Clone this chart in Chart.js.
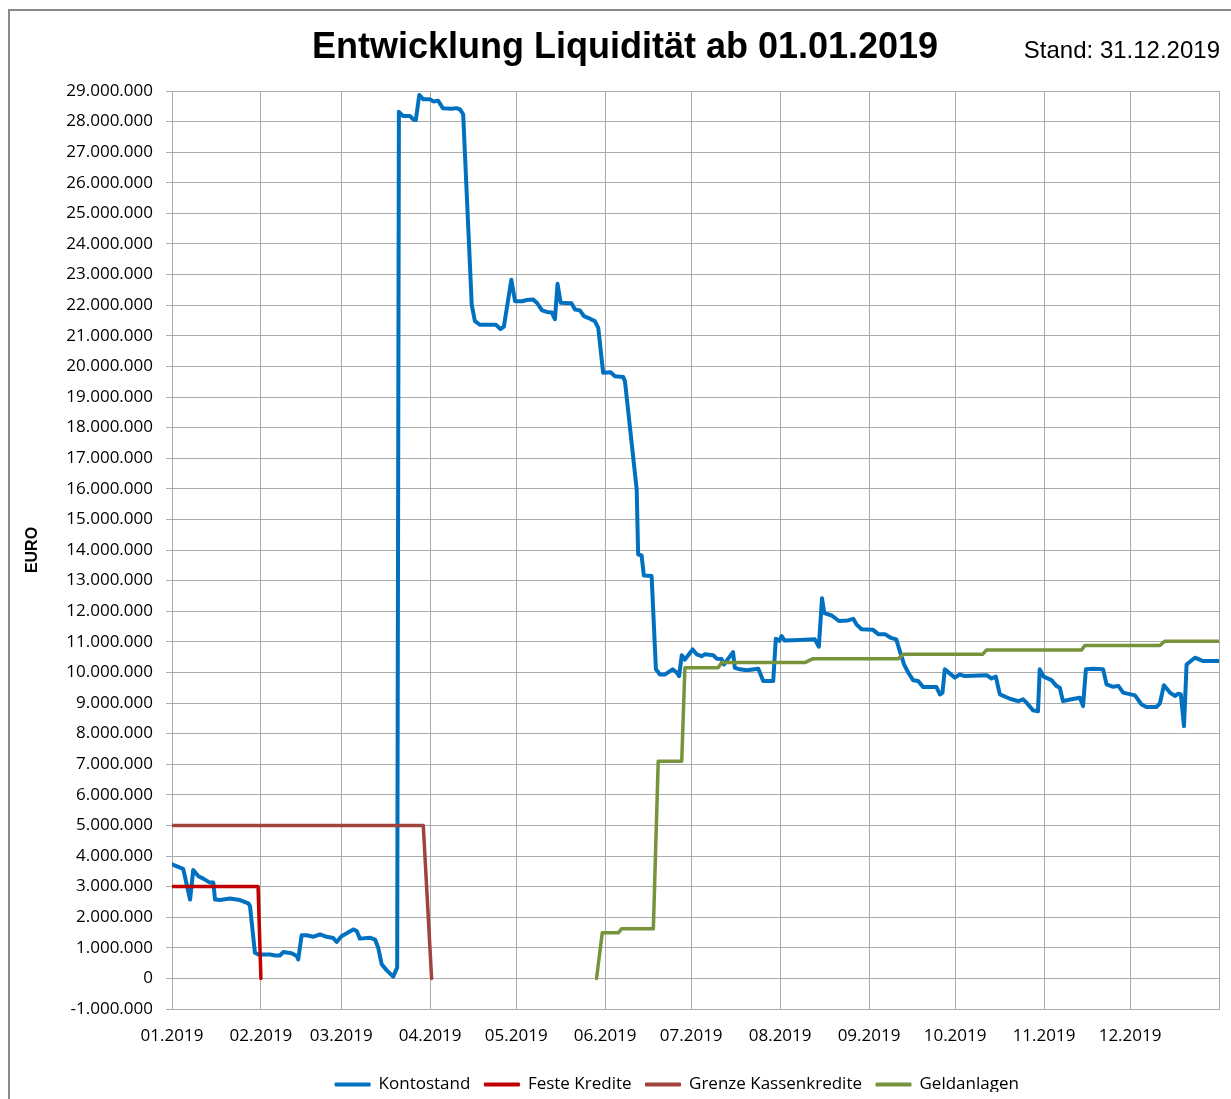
<!DOCTYPE html>
<html><head><meta charset="utf-8">
<script src="https://cdn.jsdelivr.net/npm/chart.js@4"></script>
<style>
html,body{margin:0;padding:0;background:#fff;overflow:hidden;width:1231px;height:1099px;position:relative}
#frame{position:absolute;left:8px;top:9px;width:1300px;height:1200px;border-left:2px solid #8a8a8a;border-top:2px solid #8a8a8a}
canvas{position:absolute;left:0;top:0}
</style></head><body>
<div id="frame"></div>
<canvas id="c" width="1236" height="1099"></canvas>
<script>
const TITLE = 'Entwicklung Liquidität ab 01.01.2019';
const STAND = 'Stand: 31.12.2019';
const Y_TITLE = 'EURO';
const seriesNames = ['Kontostand', 'Feste Kredite', 'Grenze Kassenkredite', 'Geldanlagen'];

// x axis: day of year 2019 (0 = 01.01.2019)
const monthStarts = [0, 31, 59, 90, 120, 151, 181, 212, 243, 273, 304, 334, 365];
const monthLabels = ['01.2019','02.2019','03.2019','04.2019','05.2019','06.2019','07.2019','08.2019','09.2019','10.2019','11.2019','12.2019',''];

const kontoDays = [0,2.8,3.9,6.3,7.4,9.2,10.9,13.2,14.4,15,
16.7,20.2,23.7,26.6,27.2,28.9,30.1,34.2,35.9,37.6,
38.8,41.7,43.5,44,45.2,47,49.2,51.6,53.9,56.2,
57.4,59.1,63.2,64.4,65.5,69,70.8,71.9,73.1,74.8,
77.1,78.5,79.1,80.6,83,84.1,85,86.2,87.6,89.9,
91.1,92.8,94.4,97.5,99.2,100.4,101.5,104.5,105.6,107.4,
112.9,114.5,115.7,118.3,119.6,122,123.7,125.8,127.2,129,
130.7,132.4,133.5,134.4,135.5,139.3,140.5,142.2,143.6,145.7,
147.4,148.6,150.3,152.9,154.4,157.3,157.9,162,162.5,163.7,
164.5,167.2,168.7,170.1,171.8,174.5,175.9,176.8,177.7,178.8,
181.5,182.9,184.6,185.8,188.7,189.9,191.6,192.4,193.9,195.6,
196.2,198,200.3,204.4,206.1,209.6,210.5,211.7,212.5,213.6,
218.8,224.1,225.5,226.6,227.4,230,232.5,235.6,237.5,238.6,
240.4,244.4,246.2,248.5,250.6,252.5,253.2,255.2,256.7,258.4,
260.1,261.9,266.5,267.7,268.6,269.4,271.2,272.9,274.6,276.4,
284,285.7,287.2,288.6,292.1,295,296.7,297.9,300.2,301.9,
302.5,303.9,306.6,308.3,309.5,310.6,313.6,316.5,317.6,318.6,
321.1,324.6,325.8,328.1,329.9,331.6,335.7,338,339.7,343.2,
344.4,345.8,347.9,349.6,350.8,351.7,352.8,353.7,356.6,359.5,
365];
const kontoValues = [3730000,3620000,3580000,2580000,3540000,3340000,3260000,3130000,3130000,2580000,
2560000,2610000,2560000,2450000,2360000,840000,780000,780000,750000,750000,
860000,820000,730000,620000,1410000,1410000,1360000,1440000,1360000,1320000,
1190000,1380000,1600000,1550000,1300000,1330000,1270000,1000000,460000,270000,
60000,350000,28320000,28180000,28180000,28070000,28050000,28870000,28730000,28730000,
28660000,28680000,28440000,28420000,28440000,28400000,28240000,22000000,21480000,21360000,
21360000,21220000,21300000,22830000,22130000,22130000,22170000,22190000,22080000,21830000,
21780000,21760000,21540000,22700000,22080000,22060000,21860000,21830000,21640000,21560000,
21480000,21260000,19790000,19810000,19680000,19650000,19520000,15980000,13860000,13820000,
13170000,13150000,10100000,9930000,9930000,10100000,10000000,9880000,10560000,10420000,
10750000,10590000,10530000,10590000,10560000,10450000,10440000,10260000,10450000,10660000,
10150000,10100000,10070000,10120000,9720000,9720000,11100000,11030000,11190000,11040000,
11060000,11080000,10840000,12420000,11940000,11860000,11680000,11700000,11750000,11570000,
11410000,11390000,11250000,11250000,11130000,11080000,10860000,10260000,9990000,9740000,
9720000,9520000,9520000,9280000,9330000,10100000,9960000,9830000,9930000,9880000,
9910000,9800000,9860000,9280000,9140000,9060000,9120000,9010000,8760000,8730000,
10100000,9860000,9750000,9560000,9500000,9060000,9120000,9170000,8900000,10100000,
10120000,10100000,9610000,9530000,9560000,9340000,9250000,8950000,8870000,8870000,
8990000,9580000,9340000,9230000,9300000,9280000,8240000,10260000,10480000,10370000,
10370000];

const festeDays = [0, 30, 31];
const festeValues = [3000000, 3000000, 0];

const grenzeDays = [0, 87.6, 90.5];
const grenzeValues = [5000000, 5000000, 0];

const geldDays = [148,150,155.6,156.7,167.8,169.5,177.7,178.8,190.4,191.6,220.6,223.5,253.2,254.9,282.6,283.9,317.1,318.2,344.4,346.1,365];
const geldValues = [0,1490000,1490000,1620000,1620000,7100000,7100000,10150000,10150000,10320000,10320000,10450000,10450000,10590000,10590000,10730000,10730000,10880000,10880000,11020000,11020000];

const yMin = -1000000, yMax = 29000000, yStep = 1000000;

function pts(days, vals){ return days.map((d,i)=>({x:d, y:vals[i]})); }
function fmt(v){ const s = Math.abs(Math.round(v)).toString().replace(/\B(?=(\d{3})+(?!\d))/g,'.'); return (v<0?'-':'')+s; }

const colors = ['#0070C0', '#C00000', '#A0433E', '#77933C'];
const common = {pointRadius:0, pointHoverRadius:0, tension:0, fill:false, borderJoinStyle:'round', borderCapStyle:'round'};

const titlePlugin = {
  id:'titles',
  afterDraw(chart){
    const ctx = chart.ctx; ctx.save();
    ctx.fillStyle = '#000'; ctx.textBaseline = 'alphabetic';
    ctx.textAlign = 'center'; ctx.font = 'bold 36px "Liberation Sans"';
    ctx.fillText(TITLE, 625, 58);
    ctx.textAlign = 'right'; ctx.font = '24px "Liberation Sans"';
    ctx.fillText(STAND, 1220, 58);
    ctx.restore();
  }
};
const legendShift = {
  id:'legendShift',
  afterLayout(chart){
    const lg = chart.legend; if(!lg) return;
    const dx = 677 - (lg.left + lg.right)/2;
    const dy = 1062 - lg.top;
    lg.left += dx; lg.right += dx; lg.top += dy; lg.bottom += dy;
  }
};

Chart.defaults.font.family = '"Open Sans"';
new Chart(document.getElementById('c'), {
  type:'line',
  data:{ datasets:[
    Object.assign({label:seriesNames[0], data:pts(kontoDays,kontoValues), borderColor:colors[0], backgroundColor:colors[0], borderWidth:4, order:4}, common),
    Object.assign({label:seriesNames[1], data:pts(festeDays,festeValues), borderColor:colors[1], backgroundColor:colors[1], borderWidth:3.5, order:3}, common),
    Object.assign({label:seriesNames[2], data:pts(grenzeDays,grenzeValues), borderColor:colors[2], backgroundColor:colors[2], borderWidth:3.5, order:2}, common),
    Object.assign({label:seriesNames[3], data:pts(geldDays,geldValues), borderColor:colors[3], backgroundColor:colors[3], borderWidth:3.5, order:1}, common)
  ]},
  options:{
    responsive:false, animation:false, devicePixelRatio:1,
    layout:{padding:{top:91, left:12, right:9, bottom:20}},
    scales:{
      x:{ type:'linear', min:0, max:365,
        afterBuildTicks: s => { s.ticks = monthStarts.map(v=>({value:v})); },
        afterFit: s => { s.height = 40; },
        ticks:{ autoSkip:false, maxRotation:0, padding:17, color:'#000', font:{size:17}, callback:(v,i)=>monthLabels[i] },
        grid:{ color:'#ABABAB', lineWidth:1, drawTicks:false },
        border:{ color:'#ABABAB' }
      },
      y:{ min:yMin, max:yMax,
        afterFit: s => { s.width = 172 - 12; },
        ticks:{ stepSize:yStep, autoSkip:false, padding:13, color:'#000', font:{size:17}, callback:v=>fmt(v) },
        grid:{ color:'#ABABAB', lineWidth:1, tickLength:6 },
        border:{ color:'#ABABAB' },
        title:{ display:true, text:Y_TITLE, color:'#000', font:{family:'"Liberation Sans"', weight:'bold', size:16}, padding:{top:11, bottom:0} }
      }
    },
    plugins:{
      legend:{ position:'bottom', maxHeight:30,
        labels:{ boxWidth:35, boxHeight:3, padding:14, color:'#000', font:{size:17},
          generateLabels: chart => chart.data.datasets.map((ds,i)=>({text:ds.label, fillStyle:ds.borderColor, strokeStyle:ds.borderColor, lineWidth:1, hidden:false, datasetIndex:i, fontColor:'#000'}))
        } },
      tooltip:{enabled:false}
    }
  },
  plugins:[titlePlugin, legendShift]
});
</script></body></html>
